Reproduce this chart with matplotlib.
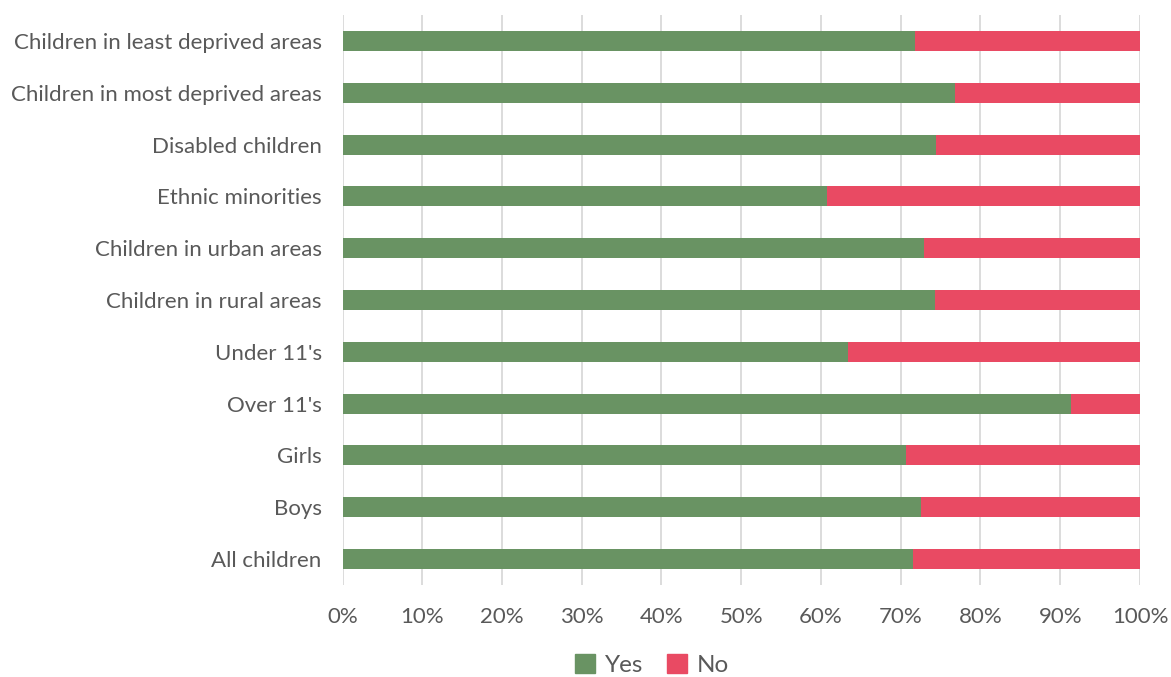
import numpy as np
import matplotlib.pyplot as plt
from matplotlib.patches import Patch

categories = [
    "All children",
    "Boys",
    "Girls",
    "Over 11's",
    "Under 11's",
    "Children in rural areas",
    "Children in urban areas",
    "Ethnic minorities",
    "Disabled children",
    "Children in most deprived areas",
    "Children in least deprived areas",
]
yes_pct = [71.5, 72.5, 70.7, 91.4, 63.4, 74.3, 72.9, 60.8, 74.4, 76.8, 71.8]
no_pct = [100 - v for v in yes_pct]

green = "#699363"
red = "#e94a63"
text_col = "#595959"

plt.rcParams["font.family"] = ["Lato", "DejaVu Sans"]

fig = plt.figure(figsize=(11.71, 6.77), dpi=100)
ax = fig.add_axes([342.5 / 1171, 1 - 585 / 677, (1140 - 342.5) / 1171, (585 - 15) / 677])

y = np.arange(len(categories))
ax.barh(y, yes_pct, height=0.385, color=green, zorder=3)
ax.barh(y, no_pct, left=yes_pct, height=0.385, color=red, zorder=3)

ax.set_xlim(0, 100)
ax.set_ylim(-0.5, len(categories) - 0.5)
ax.set_xticks(np.arange(0, 101, 10))
ax.set_xticklabels([f"{v}%" for v in range(0, 101, 10)])
ax.set_yticks(y)
ax.set_yticklabels(categories)
ax.grid(axis="x", color="#d9d9d9", linewidth=1.3, zorder=0)
for s in ax.spines.values():
    s.set_visible(False)
ax.tick_params(axis="both", length=0, labelsize=16, colors=text_col)
ax.tick_params(axis="x", pad=16)
ax.tick_params(axis="y", pad=15)

handles = [Patch(color=green, label="Yes"), Patch(color=red, label="No")]
fig.legend(handles=handles, loc="center", bbox_to_anchor=(652 / 1171, 1 - 665 / 677),
           ncol=2, frameon=False, fontsize=17.5, handlelength=0.8, handleheight=0.8,
           handletextpad=0.4, columnspacing=1.0, labelcolor=text_col)

fig.savefig("out.png", dpi=100)
